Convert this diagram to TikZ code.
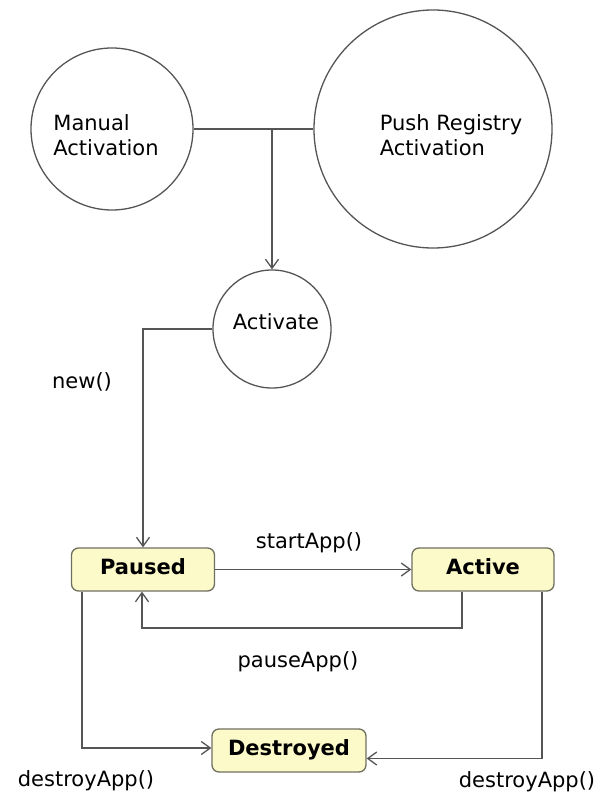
\documentclass[tikz,border=0pt]{standalone}
\usepackage{fontspec}
\setmainfont{DejaVu Sans}
\usetikzlibrary{arrows.meta}
\definecolor{linegray}{HTML}{555555}
\definecolor{boxfill}{HTML}{FCFAC8}
\definecolor{boxline}{HTML}{707060}
\tikzset{
  conn/.style={draw=linegray, line width=1.4pt},
  arr/.style={conn, -{Straight Barb[length=9pt,width=13pt,line width=1.3pt]}},
  circ/.style={circle, draw=linegray, line width=1.3pt, inner sep=0pt},
  ctext/.style={align=left, font=\fontsize{21}{25}\selectfont, inner sep=0pt},
  statebox/.style={rectangle, rounded corners=7pt, draw=boxline, line width=1.3pt, fill=boxfill,
    font=\fontsize{21}{25}\selectfont\bfseries, text height=15pt, text depth=5pt, inner sep=0pt},
  lbl/.style={font=\fontsize{21}{25}\selectfont, inner sep=0pt}
}
\begin{document}
\begin{tikzpicture}[x=1pt,y=-1pt]
\useasboundingbox[fill=white] (0,0) rectangle (601,794);

% circles
\node[circ, minimum size=162pt] (man) at (112,129) {};
\node[ctext] (manT) at (106,135) {Manual\\Activation};
\node[circ, minimum size=238pt] (push) at (433,129) {};
\node[ctext] (pushT) at (451,135) {Push Registry\\Activation};
\node[circ, minimum size=118pt] (act) at (272,329) {};
\node[ctext] (actT) at (276,322) {Activate};

% states
\node[statebox, minimum width=143pt, minimum height=43pt] (paused) at (143,569.5) {Paused};
\node[statebox, minimum width=142pt, minimum height=43pt] (active) at (483,569.5) {Active};
\node[statebox, minimum width=154pt, minimum height=43pt] (destroyed) at (289,750.5) {Destroyed};

% connectors
\coordinate (j) at (272,129);
\draw[conn] (man) -- (push);
\draw[arr] (j) -- (act);
\draw[arr] (act.west) -| (paused.north);
\draw[arr] (paused.east) -- (active.west);
\coordinate (pa) at (462,628);
\draw[arr] ([xshift=-21pt]active.south) -- (pa) -| ([xshift=-1pt]paused.south);
\draw[arr] ([xshift=-61pt]paused.south) |- ([yshift=2.5pt]destroyed.west);
\draw[arr] ([xshift=59pt]active.south) |- ([yshift=-8pt]destroyed.east);

% labels
\node[lbl] (lnew) at (82,382) {new()};
\node[lbl] (lstart) at (309,543) {startApp()};
\node[lbl] (lpause) at (298,662) {pauseApp()};
\node[lbl] (ldes1) at (86,781) {destroyApp()};
\node[lbl] (ldes2) at (527,782) {destroyApp()};
\end{tikzpicture}
\end{document}
